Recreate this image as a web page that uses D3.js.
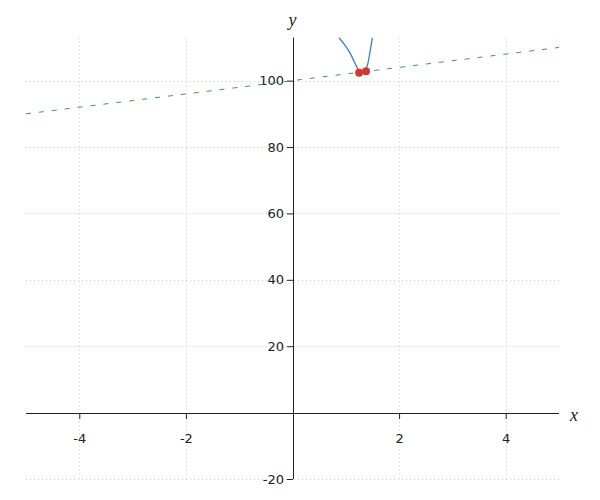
<!DOCTYPE html>
<html><head><meta charset="utf-8">
<script src="https://cdn.jsdelivr.net/npm/d3@7"></script>
<style>body{margin:0;background:#fff}svg{display:block}</style>
</head><body><svg id="c" width="600" height="500"></svg>
<script>
const xTicks = [-4, -2, 2, 4];
const yTicks = [-20, 20, 40, 60, 80, 100];
const xDomain = [-5, 5];
const yDomain = [-20, 113];
const curveX = [0.87, 0.98, 1.08, 1.15, 1.21, 1.26, 1.31, 1.36, 1.41, 1.45, 1.50];
const curveY = [113.0, 110.8, 108.3, 106.0, 104.0, 102.7, 102.3, 103.0, 104.9, 108.3, 113.0];
const pointX = [1.25, 1.38];
const pointY = [102.4, 102.8];
const lineX = [-5, 5];
const lineY = [90, 110];

(function(){
const svg = d3.select('#c');
const x = d3.scaleLinear().domain(xDomain).range([26, 559]);
const y = d3.scaleLinear().domain(yDomain).range([479, 37.5]);
const pL = x(xDomain[0]), pR = x(xDomain[1]), pT = y(yDomain[1]), pB = y(yDomain[0]);

svg.append('defs').append('clipPath').attr('id','clip').append('rect')
  .attr('x', pL).attr('y', pT).attr('width', pR-pL).attr('height', pB-pT);

const grid = svg.append('g').attr('stroke', '#c8c8c8').attr('stroke-dasharray', '1,3').attr('stroke-width', 1);
grid.selectAll('.v').data(xTicks).join('line')
  .attr('x1', d => Math.round(x(d))+0.5).attr('x2', d => Math.round(x(d))+0.5)
  .attr('y1', pT).attr('y2', pB);
grid.selectAll('.h').data(yTicks).join('line')
  .attr('y1', d => Math.round(y(d))+0.5).attr('y2', d => Math.round(y(d))+0.5)
  .attr('x1', pL).attr('x2', pR);

const font = '"DejaVu Sans", sans-serif';
const fmt = d => String(d);
const xAxis = svg.append('g').attr('transform', `translate(0,${Math.round(y(0))})`)
  .call(d3.axisBottom(x).tickValues(xTicks).tickSize(6).tickSizeOuter(0).tickFormat(fmt));
const yAxis = svg.append('g').attr('transform', `translate(${Math.round(x(0))},0)`)
  .call(d3.axisLeft(y).tickValues(yTicks).tickSize(6).tickSizeOuter(0).tickFormat(fmt));
[xAxis, yAxis].forEach(a => {
  a.selectAll('text').attr('font-family', font).attr('font-size', 13).attr('fill', '#222');
  a.selectAll('line,path').attr('stroke', '#222');
});
xAxis.select('.domain').attr('d', `M${pL},0.5H${pR}`);
xAxis.selectAll('.tick text').attr('dy', '1.6em');
yAxis.select('.domain').attr('d', `M0.5,${pT}V${pB}`);

const plot = svg.append('g').attr('clip-path', 'url(#clip)');
plot.append('path')
  .datum(lineX.map((v,i) => [v, lineY[i]]))
  .attr('d', d3.line().x(d => x(d[0])).y(d => y(d[1])))
  .attr('fill', 'none').attr('stroke', '#3a9a55').attr('stroke-width', 1).attr('stroke-dasharray', '5,8');
plot.append('path')
  .datum(curveX.map((v,i) => [v, curveY[i]]))
  .attr('d', d3.line().curve(d3.curveNatural).x(d => x(d[0])).y(d => y(d[1])))
  .attr('fill', 'none').attr('stroke', '#3b7cc0').attr('stroke-width', 1.3);
plot.selectAll('circle').data(pointX.map((v,i) => [v, pointY[i]])).join('circle')
  .attr('cx', d => x(d[0])).attr('cy', d => y(d[1])).attr('r', 4)
  .attr('fill', '#cc3b30');

svg.append('text').attr('x', x(0)).attr('y', 26).attr('text-anchor', 'middle')
  .attr('font-family', '"Liberation Serif", serif').attr('font-style', 'italic').attr('font-size', 18).attr('fill', '#222').text('y');
svg.append('text').attr('x', 574).attr('y', 421).attr('text-anchor', 'middle')
  .attr('font-family', '"Liberation Serif", serif').attr('font-style', 'italic').attr('font-size', 18).attr('fill', '#222').text('x');
})();
</script></body></html>
